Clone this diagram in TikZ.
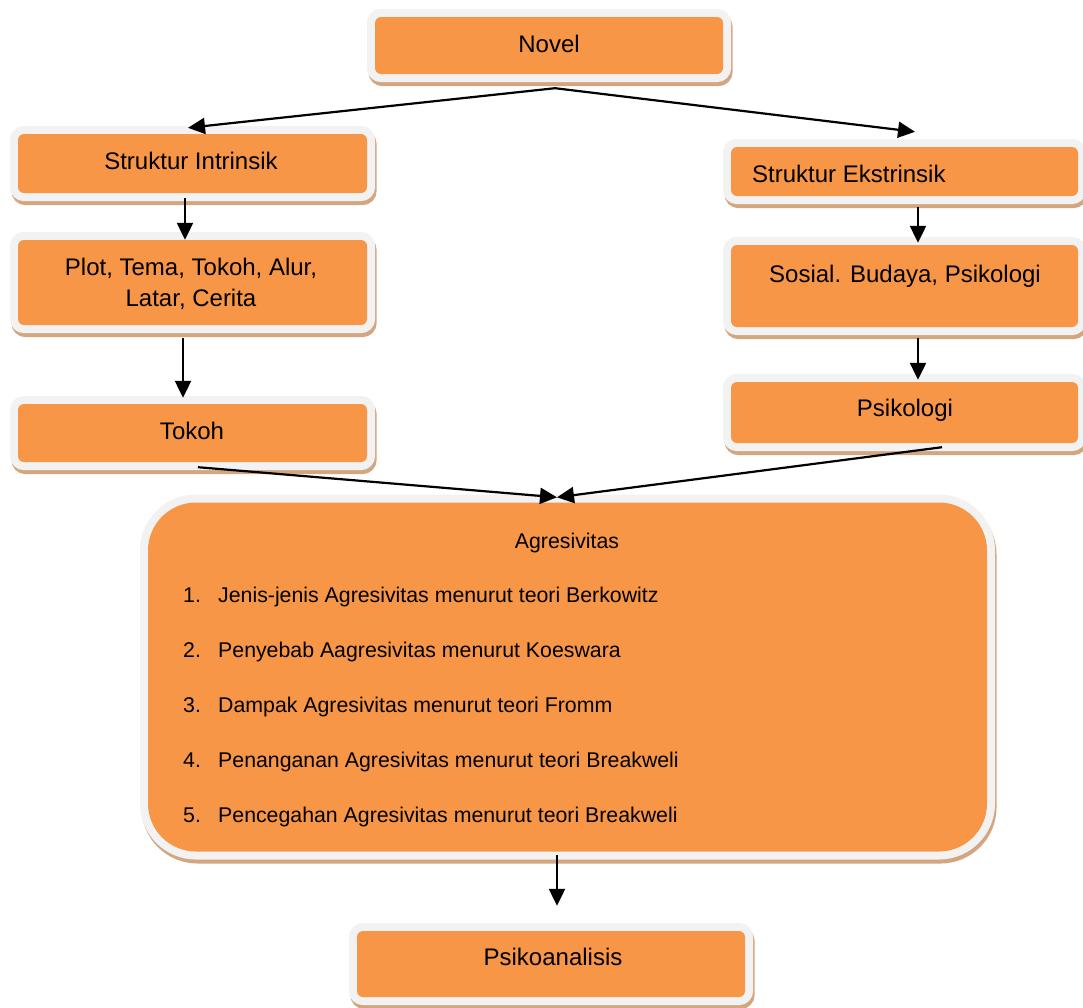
\documentclass[tikz,border=0pt]{standalone}
\usepackage{fontspec}
\setmainfont{Liberation Sans}
\usetikzlibrary{arrows.meta}
\definecolor{boxorange}{RGB}{247,150,70}
\definecolor{boxrim}{RGB}{242,242,242}
\definecolor{boxshadow}{RGB}{212,166,128}
\tikzset{
  obox/.style={rectangle, rounded corners=#1, fill=boxorange, inner sep=0pt,
    preaction={draw=boxshadow, fill=boxshadow, line width=16pt,
      transform canvas={xshift=1.5pt,yshift=-4pt}},
    preaction={draw=boxrim, line width=16pt}},
  obox/.default=6pt,
  lbl/.style={anchor=base, inner sep=0pt, align=center,
    font=\fontsize{24}{31}\selectfont},
  itm/.style={anchor=base west, inner sep=0pt, font=\fontsize{21.3}{25}\selectfont},
  arr/.style={line width=2.2pt, -{Triangle[length=17pt,width=16pt]}}
}
\begin{document}
\begin{tikzpicture}[x=1pt,y=-1pt]
\clip (0,0) rectangle (1083,1007);
\fill[white] (0,0) rectangle (1083,1007);
% boxes
\node[obox, minimum width=348pt, minimum height=57pt] (novel) at (549,45.5) {};
\node[obox, minimum width=349pt, minimum height=59pt] (intr) at (192.5,163.5) {};
\node[obox, minimum width=347pt, minimum height=49pt] (ekstr) at (904.5,171.5) {};
\node[obox, minimum width=349pt, minimum height=85pt] (plot) at (192.5,282.5) {};
\node[obox, minimum width=347pt, minimum height=82pt] (sosial) at (904.5,286) {};
\node[obox, minimum width=349pt, minimum height=58pt] (tokoh) at (192.5,433) {};
\node[obox, minimum width=347pt, minimum height=61pt] (psik) at (904.5,412.5) {};
\node[obox=48pt, minimum width=839pt, minimum height=349pt] (agr) at (567.5,677) {};
\node[obox, minimum width=388pt, minimum height=66pt] (psa) at (551,964) {};
% texts
\node[lbl] (tnovel) at (549,52) {Novel};
\node[lbl] (tintr) at (191,169) {Struktur Intrinsik};
\node[lbl, anchor=base west] (tekstr) at (752,182) {Struktur Ekstrinsik};
\node[lbl] (tplot) at (191,306) {Plot, Tema, Tokoh, Alur,\\Latar, Cerita};
\node[lbl] (tsosial) at (905,282) {Sosial. Budaya, Psikologi};
\node[lbl] (ttokoh) at (192,439) {Tokoh};
\node[lbl] (tpsik) at (905,416) {Psikologi};
\node[lbl] (tpsa) at (553,965) {Psikoanalisis};
\node[itm, anchor=base] (tagr) at (567,548) {Agresivitas};
\node[itm] (n1) at (183,602) {1.};
\node[itm] (i1) at (218,602) {Jenis-jenis Agresivitas menurut teori Berkowitz};
\node[itm] (n2) at (183,657) {2.};
\node[itm] (i2) at (218,657) {Penyebab Aagresivitas menurut Koeswara};
\node[itm] (n3) at (183,712) {3.};
\node[itm] (i3) at (218,712) {Dampak Agresivitas menurut teori Fromm};
\node[itm] (n4) at (183,767) {4.};
\node[itm] (i4) at (218,767) {Penanganan Agresivitas menurut teori Breakweli};
\node[itm] (n5) at (183,822) {5.};
\node[itm] (i5) at (218,822) {Pencegahan Agresivitas menurut teori Breakweli};
% connectors
\draw[arr] ([xshift=6pt,yshift=-14pt]novel.south) -- ([xshift=-4.5pt,yshift=6pt]intr.north);
\draw[arr] ([xshift=6pt,yshift=-14pt]novel.south) -- ([xshift=10.5pt,yshift=15pt]ekstr.north);
\draw[arr] ([xshift=-7.5pt,yshift=-5pt]intr.south) -- ([xshift=-7.5pt]plot.north);
\draw[arr] ([xshift=-9.5pt,yshift=-13pt]plot.south) -- ([xshift=-9.5pt,yshift=6pt]tokoh.north);
\draw[arr] ([xshift=13.5pt,yshift=-11pt]ekstr.south) -- ([xshift=13.5pt,yshift=2pt]sosial.north);
\draw[arr] ([xshift=13.5pt,yshift=-11pt]sosial.south) -- ([xshift=13.5pt,yshift=2pt]psik.north);
\draw[arr] ([xshift=5.5pt,yshift=-5pt]tokoh.south) -- ([xshift=-10.5pt,yshift=5pt]agr.north);
\draw[arr] ([xshift=37.5pt,yshift=-4pt]psik.south) -- ([xshift=-10.5pt,yshift=5pt]agr.north);
\draw[arr] ([xshift=-10.5pt,yshift=-3pt]agr.south) -- ([xshift=6pt,yshift=25pt]psa.north);
\end{tikzpicture}
\end{document}
